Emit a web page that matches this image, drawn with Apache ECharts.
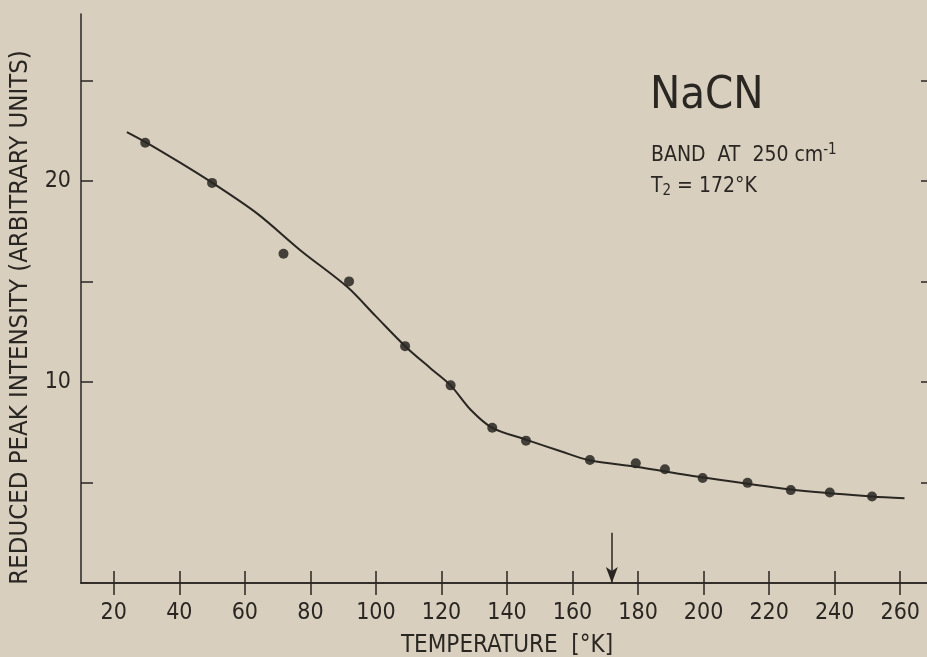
<!DOCTYPE html>
<html>
<head>
<meta charset="utf-8">
<title>NaCN reduced peak intensity</title>
<script src="https://cdn.jsdelivr.net/npm/echarts@6/dist/echarts.min.js"></script>
<style>
  html, body { margin: 0; padding: 0; background: #d8cfbe; }
  #chart { width: 927px; height: 657px; }
</style>
</head>
<body>
<div id="chart"></div>
<script>
// tick positions
const tempTicks = [20, 40, 60, 80, 100, 120, 140, 160, 180, 200, 220, 240, 260];
const intensityTicks = [5, 10, 15, 20, 25];
const intensityLabels = [10, 20];

// measured points (dots)
const measuredT = [29.6, 50.0, 71.8, 91.8, 108.9, 122.8, 135.5, 145.8, 165.3, 179.3, 188.2, 199.7, 213.4, 226.6, 238.5, 251.4];
const measuredI = [21.9, 19.9, 16.38, 15.0, 11.78, 9.83, 7.72, 7.08, 6.12, 5.95, 5.66, 5.22, 4.98, 4.62, 4.5, 4.3];

// hand drawn curve through the points
const fitT = [24.0, 29.7, 40.0, 50.0, 63.8, 77.0, 91.3, 100.0, 108.9, 116.8, 122.8, 128.9, 135.5, 146.0, 156.4, 165.2, 179.3, 199.8, 226.6, 251.4, 261.3];
const fitI = [22.43, 21.93, 20.93, 19.91, 18.37, 16.54, 14.72, 13.26, 11.78, 10.66, 9.83, 8.62, 7.72, 7.12, 6.55, 6.1, 5.78, 5.25, 4.65, 4.3, 4.22];

// transition temperature arrow
const t2 = 172;
const arrowTop = 2.5;

const ink = "#2a2622";
const font = "'Liberation Sans Narrow', 'DejaVu Sans Condensed', 'Liberation Sans', sans-serif";

const chart = echarts.init(document.getElementById("chart"));

const axisLine = { show: true, lineStyle: { color: ink, width: 1.5 } };
const tick = (vals) => ({
  show: true,
  inside: true,
  length: 12,
  customValues: vals,
  lineStyle: { color: ink, width: 1.5 },
});

const option = {
  backgroundColor: "#d8cfbe",
  animation: false,
  grid: { left: 81, right: -6, top: 14, bottom: 74, outerBoundsMode: "none", containLabel: false },
  xAxis: [
    {
      type: "value",
      min: 10,
      max: 270,
      position: "bottom",
      axisLine: axisLine,
      axisTick: tick(tempTicks),
      splitLine: { show: false },
      axisLabel: {
        customValues: tempTicks,
        color: ink,
        fontFamily: font,
        fontSize: 23,
        margin: 19,
      },
      name: "TEMPERATURE  [°K]",
      nameLocation: "middle",
      nameGap: 51,
      nameTextStyle: { color: ink, fontFamily: font, fontSize: 24 },
    },
    {
      type: "value",
      min: 10,
      max: 270,
      position: "top",
      axisLine: axisLine,
      axisTick: tick(tempTicks),
      splitLine: { show: false },
      axisLabel: { show: false },
    },
  ],
  yAxis: [
    {
      type: "value",
      min: 0,
      max: 28.3,
      position: "left",
      axisLine: axisLine,
      axisTick: tick(intensityTicks),
      splitLine: { show: false },
      axisLabel: {
        customValues: intensityLabels,
        color: ink,
        fontFamily: font,
        fontSize: 23,
        margin: 10,
      },
      name: "REDUCED PEAK INTENSITY (ARBITRARY UNITS)",
      nameLocation: "middle",
      nameGap: 36,
      nameTextStyle: { color: ink, fontFamily: font, fontSize: 25.5, padding: [0, 38, 0, 0] },
    },
    {
      type: "value",
      min: 0,
      max: 28.3,
      position: "right",
      axisLine: axisLine,
      axisTick: tick(intensityTicks),
      splitLine: { show: false },
      axisLabel: { show: false },
    },
  ],
  series: [
    {
      name: "fit",
      type: "line",
      smooth: 0.3,
      symbol: "none",
      lineStyle: { color: ink, width: 2 },
      data: fitT.map((t, i) => [t, fitI[i]]),
      markLine: {
        silent: true,
        symbol: ["none", "arrow"],
        symbolSize: [9, 16],
        label: { show: false },
        lineStyle: { color: ink, width: 1.5, type: "solid" },
        data: [[{ coord: [t2, arrowTop] }, { coord: [t2, 0] }]],
      },
    },
    {
      name: "measured",
      type: "scatter",
      symbol: "circle",
      symbolSize: 10,
      itemStyle: { color: "#1e1b19" },
      data: measuredT.map((t, i) => [t, measuredI[i]]),
    },
  ],
  graphic: [
    {
      type: "text",
      left: 650,
      top: 74,
      style: { text: "NaCN", font: "45px " + font, fill: ink },
    },
    {
      type: "text",
      left: 651,
      top: 143,
      style: {
        text: "BAND  AT  250 cm{sup|-1}",
        font: "21px " + font,
        fill: ink,
        rich: {
          sup: { fontSize: 15, fontFamily: font, verticalAlign: "top", padding: [0, 0, 10, 0], fill: ink },
        },
      },
    },
    {
      type: "text",
      left: 651,
      top: 176,
      style: {
        text: "T{sub|2} = 172°K",
        font: "21px " + font,
        fill: ink,
        rich: {
          sub: { fontSize: 15, fontFamily: font, padding: [10, 0, 0, 0], fill: ink },
        },
      },
    },
  ],
};

chart.setOption(option);
</script>
</body>
</html>
